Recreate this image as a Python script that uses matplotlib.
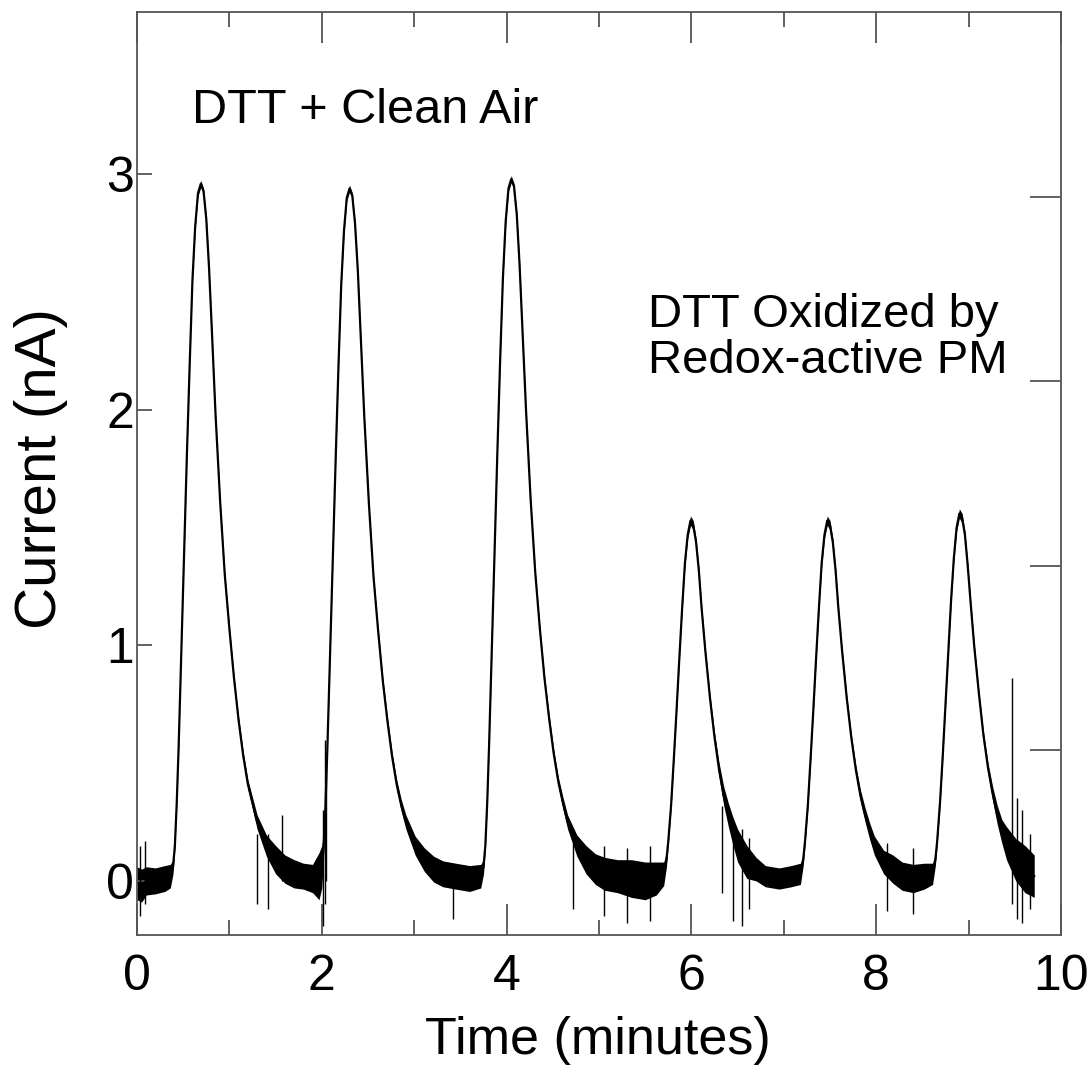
import numpy as np
import matplotlib
matplotlib.use("Agg")
import matplotlib.pyplot as plt

# Trace, one segment at a time:
# time (min), mean current (nA), half-width of the noise band (nA)
base0_t = [0.00, 0.05, 0.10, 0.20, 0.30]
base0_y = [-0.01, -0.02, 0.00, 0.00, 0.01]
base0_n = [0.07, 0.07, 0.06, 0.055, 0.055]

peak1_t = [0.36, 0.39, 0.41, 0.43, 0.45, 0.48, 0.51, 0.54, 0.57, 0.60,
           0.63, 0.66, 0.69, 0.72, 0.75, 0.78, 0.81, 0.85, 0.90, 0.95,
           1.00, 1.05, 1.10, 1.15, 1.20, 1.25, 1.30, 1.40, 1.50, 1.60, 1.70]
peak1_y = [0.02, 0.06, 0.15, 0.33, 0.56, 0.98, 1.39, 1.81, 2.19, 2.55,
           2.78, 2.92, 2.96, 2.93, 2.81, 2.60, 2.34, 1.98, 1.61, 1.30,
           1.07, 0.86, 0.68, 0.53, 0.41, 0.33, 0.25, 0.15, 0.09, 0.05, 0.03]
peak1_n = [0.05, 0.03, 0.015, 0.01, 0.008, 0.008, 0.008, 0.008, 0.008, 0.008,
           0.01, 0.012, 0.015, 0.012, 0.01, 0.008, 0.008, 0.008, 0.008, 0.008,
           0.01, 0.012, 0.015, 0.018, 0.02, 0.025, 0.03, 0.045, 0.06, 0.06, 0.06]

base1_t = [1.80, 1.90]
base1_y = [0.02, 0.01]
base1_n = [0.055, 0.06]

peak2_t = [1.97, 2.00, 2.02, 2.04, 2.06, 2.09, 2.12, 2.15, 2.18, 2.21,
           2.24, 2.27, 2.30, 2.33, 2.36, 2.39, 2.42, 2.46, 2.51, 2.56,
           2.61, 2.66, 2.71, 2.76, 2.81, 2.86, 2.91, 3.01, 3.11, 3.21, 3.31]
peak2_y = [0.02, 0.06, 0.15, 0.32, 0.56, 0.97, 1.38, 1.79, 2.18, 2.53,
           2.76, 2.90, 2.94, 2.91, 2.79, 2.59, 2.32, 1.97, 1.60, 1.29,
           1.06, 0.85, 0.68, 0.53, 0.41, 0.32, 0.25, 0.15, 0.09, 0.05, 0.03]
peak2_n = [0.10, 0.09, 0.05, 0.02, 0.008, 0.008, 0.008, 0.008, 0.008, 0.008,
           0.01, 0.012, 0.015, 0.012, 0.01, 0.008, 0.008, 0.008, 0.008, 0.008,
           0.01, 0.012, 0.015, 0.018, 0.02, 0.025, 0.03, 0.04, 0.05, 0.055, 0.055]

base2_t = [3.45, 3.60]
base2_y = [0.02, 0.01]
base2_n = [0.055, 0.055]

peak3_t = [3.72, 3.75, 3.77, 3.79, 3.81, 3.84, 3.87, 3.90, 3.93, 3.96,
           3.99, 4.02, 4.05, 4.08, 4.11, 4.14, 4.17, 4.21, 4.26, 4.31,
           4.36, 4.41, 4.46, 4.51, 4.56, 4.61, 4.66, 4.76, 4.86, 4.96, 5.06]
peak3_y = [0.02, 0.06, 0.15, 0.33, 0.57, 0.98, 1.40, 1.82, 2.21, 2.56,
           2.80, 2.94, 2.98, 2.95, 2.83, 2.62, 2.35, 2.00, 1.62, 1.31,
           1.07, 0.86, 0.69, 0.54, 0.42, 0.33, 0.25, 0.15, 0.09, 0.05, 0.03]
peak3_n = [0.05, 0.03, 0.015, 0.01, 0.008, 0.008, 0.008, 0.008, 0.008, 0.008,
           0.01, 0.012, 0.015, 0.012, 0.01, 0.008, 0.008, 0.008, 0.008, 0.008,
           0.01, 0.012, 0.015, 0.018, 0.02, 0.025, 0.03, 0.045, 0.06, 0.065, 0.07]

base3_t = [5.20, 5.35, 5.50, 5.62]
base3_y = [0.02, 0.01, 0.00, 0.01]
base3_n = [0.07, 0.08, 0.08, 0.07]

peak4_t = [5.70, 5.73, 5.75, 5.78, 5.81, 5.84, 5.87, 5.90, 5.93, 5.96,
           5.99, 6.02, 6.05, 6.08, 6.11, 6.15, 6.20, 6.25, 6.30, 6.35,
           6.40, 6.45, 6.50, 6.60, 6.70, 6.80]
peak4_y = [0.03, 0.09, 0.17, 0.32, 0.52, 0.73, 0.95, 1.16, 1.35, 1.47,
           1.53, 1.51, 1.44, 1.32, 1.16, 0.98, 0.78, 0.61, 0.47, 0.36,
           0.28, 0.21, 0.15, 0.08, 0.05, 0.02]
peak4_n = [0.05, 0.03, 0.015, 0.012, 0.01, 0.01, 0.01, 0.01, 0.012, 0.015,
           0.02, 0.02, 0.015, 0.012, 0.01, 0.01, 0.015, 0.02, 0.03, 0.04,
           0.05, 0.06, 0.07, 0.07, 0.05, 0.045]

base4_t = [6.95, 7.08]
base4_y = [0.01, 0.02]
base4_n = [0.045, 0.045]

peak5_t = [7.18, 7.21, 7.23, 7.26, 7.29, 7.32, 7.35, 7.38, 7.41, 7.44,
           7.47, 7.50, 7.53, 7.56, 7.59, 7.63, 7.68, 7.73, 7.78, 7.83,
           7.88, 7.93, 7.98, 8.08, 8.18, 8.28]
peak5_y = [0.03, 0.09, 0.17, 0.32, 0.52, 0.73, 0.95, 1.16, 1.35, 1.47,
           1.53, 1.51, 1.44, 1.32, 1.16, 0.98, 0.78, 0.61, 0.47, 0.36,
           0.28, 0.21, 0.15, 0.08, 0.05, 0.02]
peak5_n = [0.045, 0.025, 0.015, 0.012, 0.01, 0.01, 0.01, 0.01, 0.012, 0.015,
           0.02, 0.02, 0.015, 0.012, 0.01, 0.01, 0.012, 0.015, 0.02, 0.025,
           0.03, 0.035, 0.04, 0.05, 0.06, 0.06]

base5_t = [8.40, 8.52]
base5_y = [0.01, 0.02]
base5_n = [0.06, 0.055]

peak6_t = [8.61, 8.64, 8.66, 8.69, 8.72, 8.75, 8.78, 8.81, 8.84, 8.87,
           8.90, 8.93, 8.96, 8.99, 9.02, 9.06, 9.11, 9.16, 9.21, 9.26,
           9.31, 9.36, 9.41, 9.51, 9.61, 9.71]
peak6_y = [0.03, 0.09, 0.17, 0.33, 0.53, 0.75, 0.97, 1.19, 1.37, 1.50,
           1.56, 1.54, 1.47, 1.34, 1.19, 1.00, 0.80, 0.62, 0.48, 0.37,
           0.28, 0.21, 0.16, 0.09, 0.05, 0.02]
peak6_n = [0.045, 0.025, 0.015, 0.012, 0.01, 0.01, 0.01, 0.01, 0.012, 0.015,
           0.02, 0.02, 0.015, 0.012, 0.01, 0.01, 0.012, 0.015, 0.02, 0.03,
           0.04, 0.05, 0.07, 0.09, 0.10, 0.09]

# Isolated spikes in the trace: time, low end, high end (nA)
spike_time = [0.03, 0.09, 1.30, 1.42, 1.57, 2.01, 2.03, 2.05, 3.42, 4.72,
              5.05, 5.30, 5.55, 6.33, 6.45, 6.55, 6.62, 8.12, 8.40, 9.47,
              9.52, 9.58, 9.66]
spike_low = [-0.15, -0.10, -0.10, -0.12, 0.00, -0.19, -0.10, 0.00, -0.16, -0.12,
             -0.15, -0.18, -0.17, -0.05, -0.17, -0.19, -0.12, -0.13, -0.14, -0.10,
             -0.16, -0.18, -0.12]
spike_high = [0.15, 0.17, 0.20, 0.20, 0.28, 0.30, 0.60, 0.45, 0.05, 0.16,
              0.15, 0.14, 0.15, 0.32, 0.26, 0.22, 0.18, 0.16, 0.14, 0.86,
              0.35, 0.30, 0.20]

x_major = [0, 2, 4, 6, 8, 10]
x_minor = [1, 3, 5, 7, 9]
y_major = [0, 1, 2, 3]

plt.rcParams["font.family"] = ["Liberation Sans", "DejaVu Sans"]

fig = plt.figure(figsize=(10.89, 10.86), dpi=100)
ax = fig.add_axes([0.1258, 0.139, 0.8485, 0.850])

t = np.concatenate([base0_t, peak1_t, base1_t, peak2_t, base2_t, peak3_t,
                    base3_t, peak4_t, base4_t, peak5_t, base5_t, peak6_t])
c = np.concatenate([base0_y, peak1_y, base1_y, peak2_y, base2_y, peak3_y,
                    base3_y, peak4_y, base4_y, peak5_y, base5_y, peak6_y])
hw = np.concatenate([base0_n, peak1_n, base1_n, peak2_n, base2_n, peak3_n,
                     base3_n, peak4_n, base4_n, peak5_n, base5_n, peak6_n])

ax.fill_between(t, c - hw, c + hw, color="black", linewidth=0)
ax.plot(t, c, color="black", linewidth=1.6)
ax.vlines(spike_time, spike_low, spike_high, color="black", linewidth=1.0)

ax.set_xlim(0, 10)
ax.set_ylim(-0.23, 3.69)
ax.set_xticks(x_major)
ax.set_xticks(x_minor, minor=True)
ax.set_yticks(y_major)

spine_col = "#555555"
for s in ax.spines.values():
    s.set_color(spine_col)
    s.set_linewidth(1.3)

ax.tick_params(axis="x", which="major", direction="in", length=22, width=1.3,
               color=spine_col, top=True, labelsize=36, pad=14)
ax.tick_params(axis="x", which="minor", direction="in", length=11, width=1.3,
               color=spine_col, top=True)
ax.tick_params(axis="y", which="major", direction="in", length=11, width=1.3,
               color=spine_col, right=False, labelsize=36, pad=2)

# right-hand axis carries its own unlabelled ticks
ax2 = ax.twinx()
ax2.set_ylim(0, 1)
ax2.set_yticks([0.2, 0.4, 0.6, 0.8])
ax2.tick_params(axis="y", direction="in", length=22, width=1.3,
                color=spine_col, labelright=False)
for s in ax2.spines.values():
    s.set_visible(False)

ax.set_xlabel("Time (minutes)", fontsize=37.5)
ax.set_ylabel("Current (nA)", fontsize=42)
ax.xaxis.set_label_coords(0.499, -0.088)
ax.yaxis.set_label_coords(-0.075, 0.505)

ax.text(0.60, 3.27, "DTT + Clean Air", fontsize=35, ha="left", va="center")
ax.text(5.53, 2.305, "DTT Oxidized by\nRedox-active PM", fontsize=34,
        ha="left", va="center", linespacing=1.08)

fig.savefig("out.png", dpi=100)
